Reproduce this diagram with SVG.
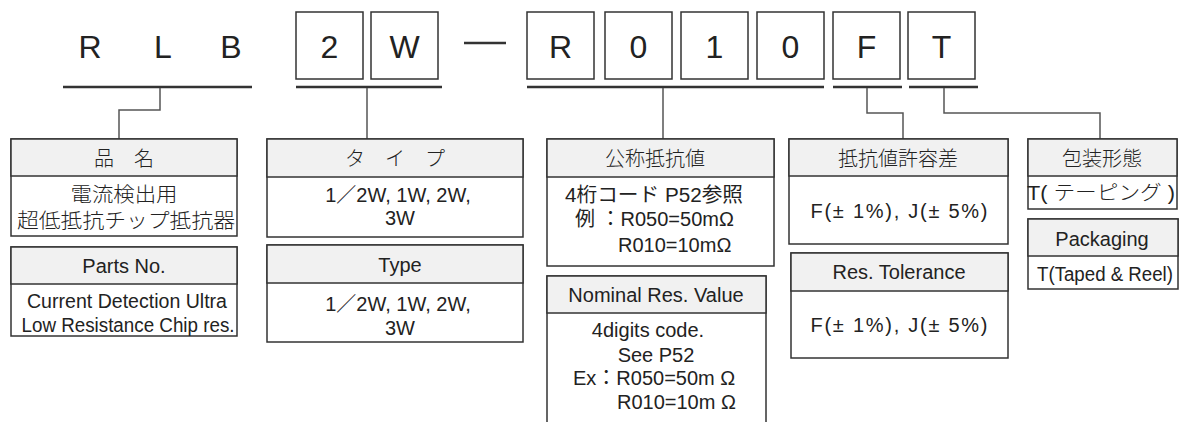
<svg xmlns="http://www.w3.org/2000/svg" width="1183" height="422" viewBox="0 0 1183 422">
<style>
.bg{fill:#fff}
.code{font-family:"Liberation Sans","Noto Sans CJK JP",sans-serif;font-size:32px;fill:#222;text-anchor:middle}
.cbox{fill:#fff;stroke:#333;stroke-width:1.5}
.ul{stroke:#333;stroke-width:2.5;fill:none}
.con{stroke:#555;stroke-width:1.5;fill:none}
.box{fill:#fff;stroke:#333;stroke-width:1.5}
.hd{fill:#f1f1f1;stroke:#333;stroke-width:1.5}
.t{font-family:"Liberation Sans","Noto Sans CJK JP",sans-serif;font-size:20px;fill:#222;text-anchor:middle}
.j{font-family:"Liberation Sans","Noto Sans CJK JP",sans-serif;font-size:20px;fill:#222;text-anchor:middle;font-weight:300}
</style>
<rect class="bg" x="0" y="0" width="1183" height="422"/>

<g id="code">
  <text class="code" x="90" y="58">R</text>
  <text class="code" x="163" y="58">L</text>
  <text class="code" x="231" y="58">B</text>
  <rect class="cbox" x="296" y="12" width="67" height="67"/>
  <text class="code" x="329.5" y="58">2</text>
  <rect class="cbox" x="371" y="12" width="67" height="67"/>
  <text class="code" x="404.5" y="58">W</text>
  <line class="ul" x1="464" y1="43" x2="506" y2="43"/>
  <rect class="cbox" x="527" y="12" width="67" height="67"/>
  <text class="code" x="560.5" y="58">R</text>
  <rect class="cbox" x="605" y="12" width="67" height="67"/>
  <text class="code" x="638.5" y="58">0</text>
  <rect class="cbox" x="681" y="12" width="67" height="67"/>
  <text class="code" x="714.5" y="58">1</text>
  <rect class="cbox" x="757" y="12" width="67" height="67"/>
  <text class="code" x="790.5" y="58">0</text>
  <rect class="cbox" x="833" y="12" width="67" height="67"/>
  <text class="code" x="866.5" y="58">F</text>
  <rect class="cbox" x="908" y="12" width="67" height="67"/>
  <text class="code" x="941.5" y="58">T</text>
</g>

<g id="connectors">
  <line class="ul" x1="63" y1="87" x2="252" y2="87"/>
  <line class="ul" x1="296" y1="87" x2="442" y2="87"/>
  <line class="ul" x1="527" y1="87" x2="824" y2="87"/>
  <line class="ul" x1="833" y1="87" x2="902" y2="87"/>
  <line class="ul" x1="909" y1="87" x2="978" y2="87"/>
  <path class="con" d="M160,88 V110 H119 V139"/>
  <path class="con" d="M367,88 V139"/>
  <path class="con" d="M663,88 V139"/>
  <path class="con" d="M867,88 V113 H903 V139"/>
  <path class="con" d="M944,88 V113 H1100 V139"/>
</g>

<g id="name-jp">
  <rect class="box" x="11" y="139" width="226" height="97"/>
  <rect class="hd" x="11" y="139" width="226" height="37"/>
  <text class="j" x="124" y="166">品　名</text>
  <text class="j" x="124" y="202" textLength="107" lengthAdjust="spacingAndGlyphs">電流検出用</text>
  <text class="j" x="126" y="228" textLength="218" lengthAdjust="spacingAndGlyphs">超低抵抗チップ抵抗器</text>
</g>
<g id="name-en">
  <rect class="box" x="11" y="247" width="226" height="89"/>
  <rect class="hd" x="11" y="247" width="226" height="37"/>
  <text class="t" x="124" y="273">Parts  No.</text>
  <text class="t" x="127" y="308" textLength="200" lengthAdjust="spacingAndGlyphs">Current Detection Ultra</text>
  <text class="t" x="128" y="332" textLength="213" lengthAdjust="spacingAndGlyphs">Low Resistance Chip res.</text>
</g>

<g id="type-jp">
  <rect class="box" x="267" y="139" width="256" height="98"/>
  <rect class="hd" x="267" y="139" width="256" height="38"/>
  <text class="j" x="395" y="166">タ　イ　プ</text>
  <text class="t" x="398" y="202">1／2W, 1W, 2W,</text>
  <text class="t" x="400" y="225">3W</text>
</g>
<g id="type-en">
  <rect class="box" x="267" y="245" width="256" height="97"/>
  <rect class="hd" x="267" y="245" width="256" height="38"/>
  <text class="t" x="400" y="272">Type</text>
  <text class="t" x="398" y="311">1／2W, 1W, 2W,</text>
  <text class="t" x="400" y="335">3W</text>
</g>

<g id="res-jp">
  <rect class="box" x="547" y="139" width="227" height="127"/>
  <rect class="hd" x="547" y="139" width="227" height="38"/>
  <text class="j" x="655" y="166">公称抵抗値</text>
  <text class="t" x="654" y="202" textLength="178" lengthAdjust="spacingAndGlyphs">4桁コード P52参照</text>
  <text class="t" x="575" y="226" style="text-anchor:start">例 ：R050=50mΩ</text>
  <text class="t" x="618" y="252" style="text-anchor:start">R010=10mΩ</text>
</g>
<g id="res-en">
  <rect class="box" x="547" y="276" width="219" height="160"/>
  <rect class="hd" x="547" y="276" width="219" height="37"/>
  <text class="t" x="656" y="302">Nominal  Res.  Value</text>
  <text class="t" x="648" y="337">4digits  code.</text>
  <text class="t" x="656" y="362">See  P52</text>
  <text class="t" x="573" y="385" style="text-anchor:start">Ex：R050=50m Ω</text>
  <text class="t" x="617" y="409" style="text-anchor:start">R010=10m Ω</text>
</g>

<g id="tol-jp">
  <rect class="box" x="789" y="139" width="219" height="105"/>
  <rect class="hd" x="789" y="139" width="219" height="37"/>
  <text class="j" x="898" y="166">抵抗値許容差</text>
  <text class="t" x="899" y="218" textLength="177" lengthAdjust="spacing">F(± 1%),  J(± 5%)</text>
</g>
<g id="tol-en">
  <rect class="box" x="791" y="253" width="217" height="105"/>
  <rect class="hd" x="791" y="253" width="217" height="38"/>
  <text class="t" x="899" y="279">Res.  Tolerance</text>
  <text class="t" x="899" y="332" textLength="177" lengthAdjust="spacing">F(± 1%),  J(± 5%)</text>
</g>

<g id="pack-jp">
  <rect class="box" x="1028" y="139" width="149" height="70"/>
  <rect class="hd" x="1028" y="139" width="149" height="37"/>
  <text class="j" x="1102" y="166">包装形態</text>
  <text class="j" x="1101" y="200" textLength="148" lengthAdjust="spacingAndGlyphs">T( テーピング )</text>
</g>
<g id="pack-en">
  <rect class="box" x="1028" y="219" width="150" height="70"/>
  <rect class="hd" x="1028" y="219" width="150" height="37"/>
  <text class="t" x="1102" y="246">Packaging</text>
  <text class="t" x="1105" y="281" textLength="136" lengthAdjust="spacingAndGlyphs">T(Taped &amp; Reel)</text>
</g>
</svg>
